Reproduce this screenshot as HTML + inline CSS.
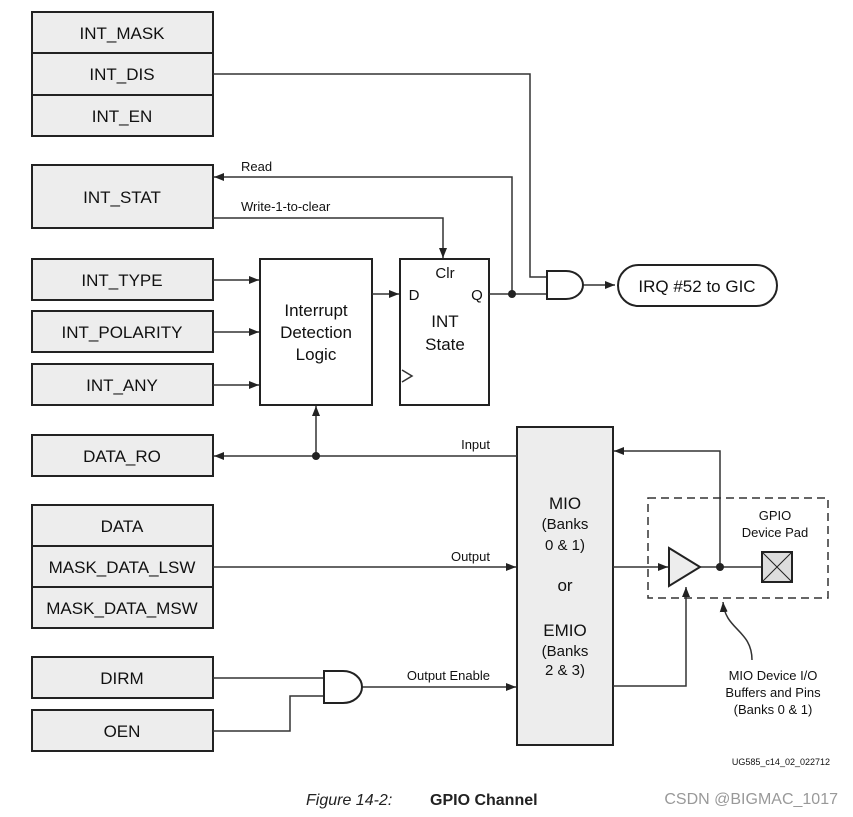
<!DOCTYPE html>
<html><head><meta charset="utf-8"><style>
html,body{margin:0;padding:0;background:#fff;}
svg{display:block;font-family:"Liberation Sans",Arial,sans-serif;}
</style></head><body>
<svg width="853" height="817" viewBox="0 0 853 817" xmlns="http://www.w3.org/2000/svg">
<defs>
<marker id="a" markerWidth="10" markerHeight="8" refX="10" refY="4" orient="auto" markerUnits="userSpaceOnUse">
<path d="M0,0 L10,4 L0,8 Z" fill="#222"/></marker>
</defs>
<g stroke="#222" stroke-width="2" fill="#ededed">
<rect x="32" y="12" width="181" height="41"/>
<rect x="32" y="53" width="181" height="42"/>
<rect x="32" y="95" width="181" height="41"/>
<rect x="32" y="165" width="181" height="63"/>
<rect x="32" y="259" width="181" height="41"/>
<rect x="32" y="311" width="181" height="41"/>
<rect x="32" y="364" width="181" height="41"/>
<rect x="32" y="435" width="181" height="41"/>
<rect x="32" y="505" width="181" height="41"/>
<rect x="32" y="546" width="181" height="41"/>
<rect x="32" y="587" width="181" height="41"/>
<rect x="32" y="657" width="181" height="41"/>
<rect x="32" y="710" width="181" height="41"/>
<rect x="517" y="427" width="96" height="318"/>
<rect x="260" y="259" width="112" height="146" fill="#fff"/>
<rect x="400" y="259" width="89" height="146" fill="#fff"/>
<rect x="618" y="265" width="159" height="41" rx="20.5" fill="#fff"/>
</g>
<g font-size="17" text-anchor="middle" fill="#111">
<text x="122" y="39">INT_MASK</text>
<text x="122" y="80">INT_DIS</text>
<text x="122" y="122">INT_EN</text>
<text x="122" y="203">INT_STAT</text>
<text x="122" y="286">INT_TYPE</text>
<text x="122" y="338">INT_POLARITY</text>
<text x="122" y="391">INT_ANY</text>
<text x="122" y="462">DATA_RO</text>
<text x="122" y="532">DATA</text>
<text x="122" y="573">MASK_DATA_LSW</text>
<text x="122" y="614">MASK_DATA_MSW</text>
<text x="122" y="684">DIRM</text>
<text x="122" y="737">OEN</text>
<text x="316" y="316">Interrupt</text>
<text x="316" y="338">Detection</text>
<text x="316" y="360">Logic</text>
<text x="445" y="327">INT</text>
<text x="445" y="350">State</text>
<text x="697" y="292">IRQ #52 to GIC</text>
<text x="565" y="509">MIO</text>
<text x="565" y="591">or</text>
<text x="565" y="636">EMIO</text>
</g>
<g font-size="15" text-anchor="middle" fill="#111">
<text x="445" y="278">Clr</text>
<text x="414" y="300">D</text>
<text x="477" y="300">Q</text>
<text x="565" y="529">(Banks</text>
<text x="565" y="550">0 &amp; 1)</text>
<text x="565" y="656">(Banks</text>
<text x="565" y="675">2 &amp; 3)</text>
</g>
<g font-size="13" fill="#111">
<text x="241" y="171">Read</text>
<text x="241" y="211">Write-1-to-clear</text>
<text x="490" y="449" text-anchor="end">Input</text>
<text x="490" y="561" text-anchor="end">Output</text>
<text x="490" y="680" text-anchor="end">Output Enable</text>
<text x="775" y="520" text-anchor="middle">GPIO</text>
<text x="775" y="537" text-anchor="middle">Device Pad</text>
<text x="773" y="680" text-anchor="middle">MIO Device I/O</text>
<text x="773" y="697" text-anchor="middle">Buffers and Pins</text>
<text x="773" y="714" text-anchor="middle">(Banks 0 &amp; 1)</text>
<text x="830" y="765" font-size="9" text-anchor="end">UG585_c14_02_022712</text>
</g>
<text x="306" y="805" font-size="16" font-style="italic" fill="#222">Figure 14-2:</text>
<text x="430" y="805" font-size="16" font-weight="bold" fill="#222">GPIO Channel</text>
<text x="838" y="804" font-size="16" fill="#999" text-anchor="end">CSDN @BIGMAC_1017</text>
<g stroke="#333" stroke-width="1.5" fill="none">
<path d="M213 74 H530 V277 H547"/>
<path d="M489 294 H547"/>
<path d="M512 294 V177 H214" marker-end="url(#a)"/>
<path d="M213 218 H443 V258" marker-end="url(#a)"/>
<path d="M583 285 H615" marker-end="url(#a)"/>
<path d="M213 280 H259" marker-end="url(#a)"/>
<path d="M213 332 H259" marker-end="url(#a)"/>
<path d="M213 385 H259" marker-end="url(#a)"/>
<path d="M372 294 H399" marker-end="url(#a)"/>
<path d="M517 456 H214" marker-end="url(#a)"/>
<path d="M316 456 V406" marker-end="url(#a)"/>
<path d="M213 567 H516" marker-end="url(#a)"/>
<path d="M362 687 H516" marker-end="url(#a)"/>
<path d="M213 678 H324"/>
<path d="M213 731 H290 V696 H324"/>
<path d="M613 567 H668" marker-end="url(#a)"/>
<path d="M700 567 H762"/>
<path d="M720 567 V451 H614" marker-end="url(#a)"/>
<path d="M613 686 H686 V587" marker-end="url(#a)"/>
<path d="M752 660 C752 630 725 630 723 602" marker-end="url(#a)"/>
<path d="M648 498 H828 V598 H648 Z" stroke-dasharray="8 5"/>
<path d="M402 370 L412 376 L402 382"/>
</g>
<g stroke="#222" stroke-width="2" fill="#fff">
<path d="M547 271 H566 A17 14 0 0 1 566 299 H547 Z"/>
<path d="M324 671 H343 A19 16 0 0 1 343 703 H324 Z"/>
<path d="M669 548 L700 567 L669 586 Z" fill="#ededed"/>
<rect x="762" y="552" width="30" height="30" fill="#ddd"/>
<path d="M762 552 L792 582 M792 552 L762 582" stroke-width="1"/>
</g>
<g fill="#222">
<circle cx="512" cy="294" r="4"/>
<circle cx="316" cy="456" r="4"/>
<circle cx="720" cy="567" r="4"/>
</g>
</svg>
</body></html>
